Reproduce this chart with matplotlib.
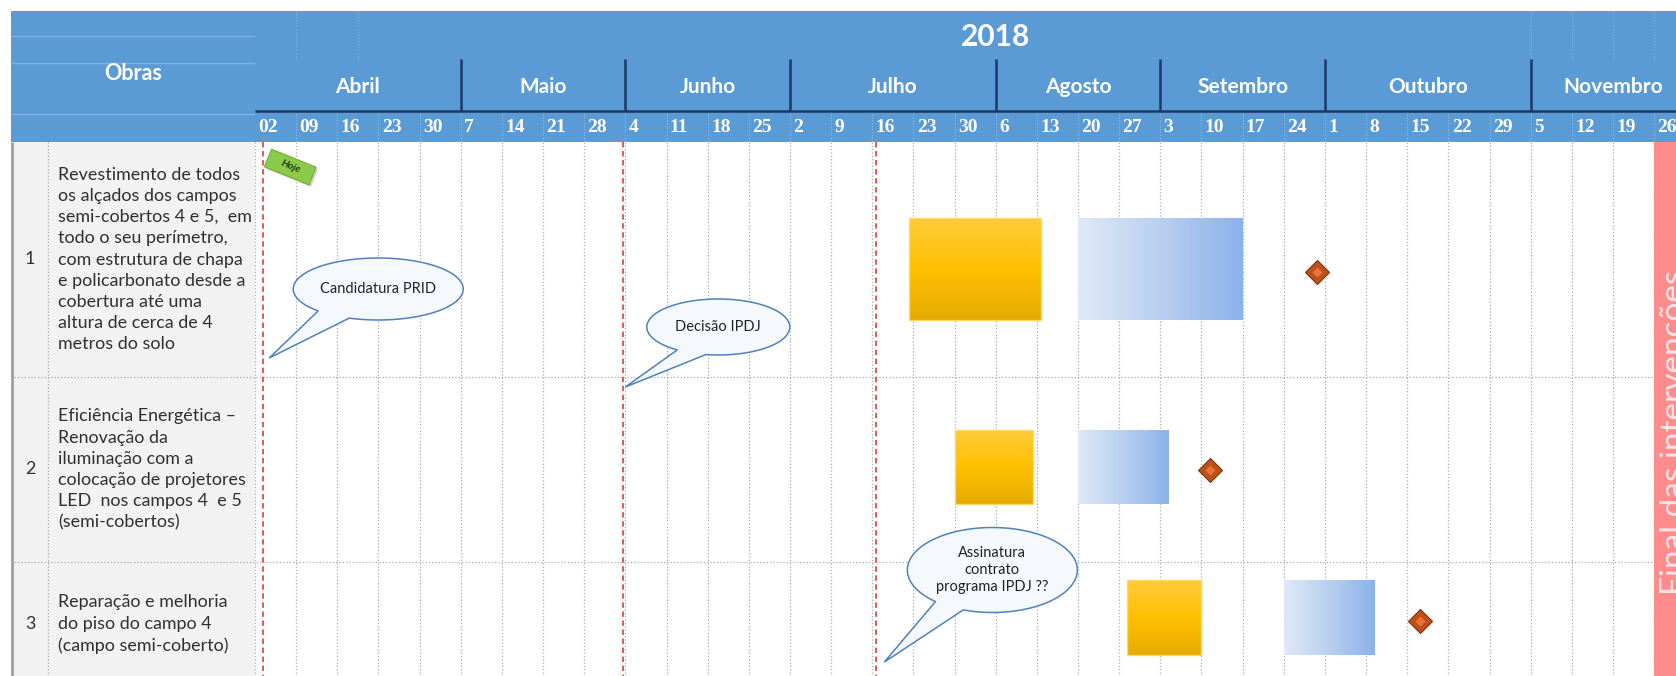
import numpy as np
import matplotlib.pyplot as plt
from matplotlib.patches import Rectangle, Polygon
from matplotlib.colors import LinearSegmentedColormap

plt.rcParams['font.family'] = ['Lato', 'DejaVu Sans']

# ---- data ----
year = '2018'
months = ['Abril', 'Maio', 'Junho', 'Julho', 'Agosto', 'Setembro', 'Outubro', 'Novembro']
weeks_per_month = [5, 4, 4, 5, 4, 4, 5, 4]
week_labels = ['02', '09', '16', '23', '30', '7', '14', '21', '28', '4', '11', '18', '25',
               '2', '9', '16', '23', '30', '6', '13', '20', '27', '3', '10', '17', '24',
               '1', '8', '15', '22', '29', '5', '12', '19', '26']

task_ids = ['1', '2', '3']
task_names = [
    'Revestimento de todos\nos alçados dos campos\nsemi-cobertos 4 e 5,  em\n'
    'todo o seu perímetro,\ncom estrutura de chapa\ne policarbonato desde a\n'
    'cobertura até uma\naltura de cerca de 4\nmetros do solo',
    'Eficiência Energética –\nRenovação da\niluminação com a\n'
    'colocação de projetores\nLED  nos campos 4  e 5\n(semi-cobertos)',
    'Reparação e melhoria\ndo piso do campo 4\n(campo semi-coberto)',
]
# weeks counted from 2 April 2018
prep_start = [15.9, 17.0, 21.2]
prep_end = [19.1, 18.9, 23.0]
exec_start = [20.0, 20.0, 25.0]
exec_end = [24.0, 22.2, 27.2]
milestones = [25.8, 23.2, 28.3]

today_week = 0.2
event_weeks = [0.2, 8.95, 15.1]
event_labels = ['Candidatura PRID', 'Decisão IPDJ', 'Assinatura\ncontrato\nprograma IPDJ ??']
end_week = 34
end_label = 'Final das intervenções'

# ---- layout (pixels) ----
W, H = 1676, 676
X0, WEEK = 255, 41.15
HEAD_TOP, HEAD_BOT = 11, 142
row_edges = [142, 377, 562, 686]
bar_top = [218, 430, 580]
bar_bot = [320, 504, 655]
# bubble: tip dx, tip y, centre offset from tip, width, height, tail angles
bubbles = [(6, 358, 109, -69, 170, 62, 110, 135),
           (2, 387, 93, -60, 143, 56, 100, 125),
           (8, 662, 108, -92, 170, 85, 110, 132)]

HEAD_BLUE = '#5B9BD5'
NAVY = '#1F3864'
GRID = '#ABABAB'
TEXT = '#303030'

fig = plt.figure(figsize=(W / 100, H / 100), dpi=100)
ax = fig.add_axes([0, 0, 1, 1])
ax.set_xlim(0, W)
ax.set_ylim(H, 0)
ax.axis('off')

xmax = (W - X0) / WEEK
hd = fig.add_axes([X0 / W, 1 - HEAD_BOT / H, 1 - X0 / W, (HEAD_BOT - HEAD_TOP) / H])
hd.set_xlim(0, xmax)
hd.set_ylim(HEAD_BOT, HEAD_TOP)
hd.axis('off')

tl = fig.add_axes([X0 / W, 0, 1 - X0 / W, 1 - HEAD_BOT / H])
tl.axis('off')

# ---- header ----
ax.add_patch(Rectangle((11, HEAD_TOP), W - 11, HEAD_BOT - HEAD_TOP, color=HEAD_BLUE, lw=0))
ax.hlines([36, 63, 114], 11, X0, colors='#7FB0DF', lw=1)
ax.text((11 + X0) / 2, 73, 'Obras', color='white', fontsize=15.5, fontweight='bold',
        ha='center', va='center')

cum = np.cumsum([0] + weeks_per_month)
hd.vlines([1, 2.5, 31, 32, 33, 34], HEAD_TOP, 59, colors='#80B2E0', linestyles=':', lw=0.8)
hd.vlines(np.arange(1, 35), 111, HEAD_BOT, colors='#8DBBE6', linestyles=':', lw=0.8)
hd.vlines(cum[1:-1], 59, 111, colors=NAVY, lw=1.8)
hd.hlines(111, 0, xmax, colors=NAVY, lw=1.8)
hd.text((cum[1] + cum[7]) / 2, 37, year, color='white', fontsize=21.5, fontweight='bold',
        ha='center', va='center')
for m, c in zip(months, (cum[:-1] + cum[1:]) / 2):
    hd.text(c, 87, m, color='white', fontsize=15, fontweight='bold', ha='center', va='center')
for i, lab in enumerate(week_labels):
    hd.text(i + 0.08, 127, lab, color='white', fontsize=14, fontweight='bold',
            family='Liberation Serif', ha='left', va='center')

# ---- left table ----
ax.add_patch(Rectangle((11, HEAD_BOT), X0 - 11, H - HEAD_BOT, color='#F2F2F2', lw=0))
ax.vlines(12, HEAD_BOT, H, colors='#A0A0A0', lw=2)
ax.vlines([48, X0], HEAD_BOT, H, colors=GRID, linestyles=':', lw=0.9)
ax.hlines(row_edges[1:3], 11, W, colors=GRID, linestyles=':', lw=0.9)
for i in range(3):
    yc = (row_edges[i] + row_edges[i + 1]) / 2
    ax.text(30, yc, task_ids[i], fontsize=12.9, color=TEXT, ha='center', va='center')
    ax.text(58, yc, task_names[i], fontsize=12.9, color=TEXT, ha='left', va='center',
            linespacing=1.40)

# ---- timeline body ----
tl.vlines(np.arange(1, 35), HEAD_BOT, H, colors=GRID, linestyles=':', lw=0.9)

yel = LinearSegmentedColormap.from_list('yel', ['#FFCB3A', '#FFC000', '#E6AB00'])
blu = LinearSegmentedColormap.from_list('blu', ['#DFE9F8', '#B9CFF0', '#8CB2EA'])
vgrad = np.linspace(0, 1, 100).reshape(-1, 1)
hgrad = np.linspace(0, 1, 100).reshape(1, -1)
for i in range(3):
    tl.imshow(vgrad, cmap=yel, aspect='auto', interpolation='bicubic', zorder=3,
              extent=[prep_start[i], prep_end[i], bar_bot[i], bar_top[i]])
    tl.add_patch(Rectangle((prep_start[i], bar_top[i]), prep_end[i] - prep_start[i],
                           bar_bot[i] - bar_top[i], fill=False, ec='#FFD966', lw=1, zorder=4))
    tl.imshow(hgrad, cmap=blu, aspect='auto', interpolation='bicubic', zorder=3,
              extent=[exec_start[i], exec_end[i], bar_bot[i], bar_top[i]])

ymid = [(t + b) / 2 + 3 for t, b in zip(bar_top, bar_bot)]
tl.plot(milestones, ymid, 'D', ms=12, mfc='#C0501A', mec='#7F300A', mew=0.8, zorder=5)
tl.plot(milestones, ymid, 'D', ms=5, mfc='#E8743A', mec='none', zorder=6)

# end band
tl.add_patch(Rectangle((end_week, HEAD_BOT), xmax - end_week + 1, H - HEAD_BOT,
                       color='#FF8C8C', lw=0, zorder=2))
tl.text(end_week + 0.5, 432, end_label, rotation=90, color='#FFE4E4', fontsize=24,
        ha='center', va='center', zorder=3, clip_on=True)

# event lines
tl.vlines(event_weeks, HEAD_BOT, H, colors='#E04A4A', linestyles=(0, (3, 2)), lw=1.3, zorder=4)

# callouts
for wk, lab, (tdx, ty, cdx, cdy, bw, bh, a1, a2) in zip(event_weeks, event_labels, bubbles):
    tx = X0 + wk * WEEK + tdx
    cx, cy = tx + cdx, ty + cdy
    th = np.radians(np.linspace(a2, a1 + 360, 240))
    px = cx + bw / 2 * np.cos(th)
    py = cy + bh / 2 * np.sin(th)
    pts = np.column_stack([(px - X0) / WEEK, py])
    pts = np.vstack([pts, [(tx - X0) / WEEK, ty]])
    tl.add_patch(Polygon(pts, closed=True, fc='#F5F9FD', ec='#4F81BD', lw=1.1, zorder=7))
    tl.text((cx - X0) / WEEK, cy, lab, fontsize=10.5, color='#222222', ha='center',
            va='center', linespacing=1.3, zorder=8)

# "Hoje" flag
fx, fy, fw, fh, ang = X0 + today_week * WEEK + 27, 167, 48, 19, np.radians(22)
c, s = np.cos(ang), np.sin(ang)
corners = np.array([[-fw / 2, -fh / 2], [fw / 2, -fh / 2], [fw / 2, fh / 2], [-fw / 2, fh / 2]])
rot = corners @ np.array([[c, s], [-s, c]])
shadow = np.column_stack([(fx + 2 + rot[:, 0] - X0) / WEEK, fy + 2 + rot[:, 1]])
flag = np.column_stack([(fx + rot[:, 0] - X0) / WEEK, fy + rot[:, 1]])
tl.add_patch(Polygon(shadow, closed=True, fc='#9A9A9A', ec='none', alpha=0.5, zorder=8,
                     clip_on=False))
tl.add_patch(Polygon(flag, closed=True, fc='#8CCB4A', ec='#6FAE3A', lw=0.8, zorder=9,
                     clip_on=False))
tl.text((fx - X0) / WEEK, fy, 'Hoje', rotation=-22, fontsize=7.5, fontweight='bold',
        style='italic', color='#1E3A10', ha='center', va='center', zorder=10,
        rotation_mode='anchor')

tl.set_xlim(0, xmax)
tl.set_ylim(H, HEAD_BOT)

fig.savefig('out.png', dpi=100, facecolor='white')
